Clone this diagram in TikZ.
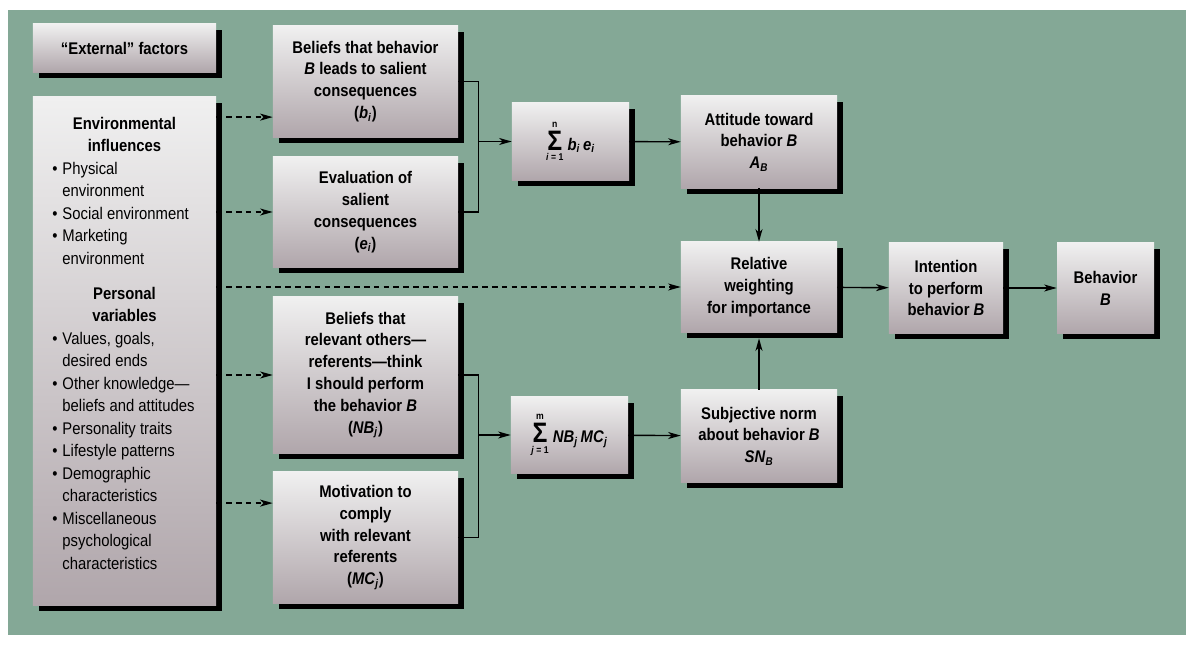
\documentclass[tikz,border=0pt]{standalone}
\usepackage{fontspec}
\setmainfont{Liberation Sans}[FakeStretch=0.88]
\usetikzlibrary{arrows.meta,positioning,shadows}
\definecolor{panel}{RGB}{132,168,150}
\definecolor{boxtop}{RGB}{240,240,240}
\definecolor{boxbot}{RGB}{176,166,171}
\newcommand{\bul}[1]{\par\hangindent=0.25cm\hangafter=1\noindent\makebox[0.25cm][l]{\textbullet}#1}
\newcommand{\sigmaop}[2]{\raisebox{-7.5pt}{\vbox{\offinterlineskip\halign{\hfil##\hfil\cr
  \fontsize{7}{7}\selectfont #1\cr\noalign{\kern2.5pt}
  \fontsize{20}{20}\selectfont Σ\cr\noalign{\kern2.5pt}
  \fontsize{7}{7}\selectfont #2\cr}}}\hspace{3pt}}
\newcommand{\sub}[1]{\textsubscript{\textit{#1}}}

\begin{document}
\begin{tikzpicture}[x=0.025cm,y=-0.025cm,
  factbox/.style={top color=boxtop,bottom color=boxbot,
    general shadow={fill=black,shadow xshift=0.15cm,shadow yshift=-0.15cm},
    align=center,inner sep=2pt,font=\bfseries\fontsize{12}{15.5}\selectfont},
  arr/.style={line width=1pt,-{Stealth[length=9pt,width=5pt,inset=2.5pt]}},
  dasharr/.style={arr,dash pattern=on 4pt off 3pt}]
\useasboundingbox (0,0) rectangle (1189,648);
\fill[panel] (8,10) rectangle (1186,635);

\node[factbox,minimum width=4.575cm,minimum height=1.2cm] (ext) at (124.5,48) {“External” factors};
\node[factbox,minimum width=4.575cm,minimum height=12.7cm] (env) at (124.5,351) {%
  \begin{minipage}{3.6cm}\raggedright\fontsize{12}{16}\selectfont
  {\centering Environmental\\ influences\par}
  \mdseries
  \bul{Physical\newline environment}
  \bul{Social environment}
  \bul{Marketing\newline environment}
  \par\vspace{9pt}
  {\centering\bfseries Personal\\ variables\par}
  \bul{Values, goals,\newline desired ends}
  \bul{Other knowledge---\newline beliefs and attitudes}
  \bul{Personality traits}
  \bul{Lifestyle patterns}
  \bul{Demographic\newline characteristics}
  \bul{Miscellaneous\newline psychological\newline characteristics}
  \par\vspace{11pt}
  \end{minipage}};

\node[factbox,minimum width=4.625cm,minimum height=2.775cm] (bel) at (365.5,81.5) {Beliefs that behavior\\ \textit{B} leads to salient\\ consequences\\ (\textit{b}\sub{i})};
\node[factbox,minimum width=4.625cm,minimum height=2.75cm] (eva) at (365.5,212) {Evaluation of\\ salient\\ consequences\\ (\textit{e}\sub{i})};
\node[factbox,minimum width=4.625cm,minimum height=3.9cm] (nb) at (365.5,375) {Beliefs that\\ relevant others---\\ referents---think\\ I should perform\\ the behavior \textit{B}\\ (\textit{NB}\sub{j})};
\node[factbox,minimum width=4.625cm,minimum height=3.275cm] (mc) at (365.5,537.5) {Motivation to\\ comply\\ with relevant\\ referents\\ (\textit{MC}\sub{j})};

\node[factbox,minimum width=2.925cm,minimum height=1.925cm] (sum1) at (570.5,141.5) {\sigmaop{n}{\textit{i} = 1}\textit{b}\sub{i}\,\textit{e}\sub{i}};
\node[factbox,minimum width=2.925cm,minimum height=1.9cm] (sum2) at (569.5,435) {\sigmaop{m}{\textit{j} = 1}\textit{NB}\sub{j}\,\textit{MC}\sub{j}};

\node[factbox,minimum width=3.9cm,minimum height=2.3cm] (att) at (759,142) {Attitude toward\\ behavior \textit{B}\\ \textit{A}\sub{B}};
\node[factbox,minimum width=3.9cm,minimum height=2.25cm] (rel) at (759,287) {Relative\\ weighting\\ for importance};
\node[factbox,minimum width=3.9cm,minimum height=2.3cm] (subj) at (759,436) {Subjective norm\\ about behavior \textit{B}\\ \textit{SN}\sub{B}};
\node[factbox,minimum width=2.85cm,minimum height=2.25cm] (int) at (946,288) {Intention\\ to perform\\ behavior \textit{B}};
\node[factbox,minimum width=2.425cm,minimum height=2.25cm] (beh) at (1105.5,288) {Behavior\\ \textit{B}};

% dashed links from the external factors
\coordinate (belin) at ([yshift=-0.89cm]bel.west);
\coordinate (mcin) at ([yshift=0.86cm]mc.west);
\draw[dasharr] (env.east |- belin) -- (belin);
\draw[dasharr] (env.east |- eva.west) -- (eva.west);
\draw[dasharr] (env.east |- rel.west) -- (rel.west);
\draw[dasharr] (env.east |- nb.west) -- (nb.west);
\draw[dasharr] (env.east |- mcin) -- (mcin);

% brackets into the sums
\coordinate (j1) at ([xshift=0.5cm]bel.east);
\coordinate (j2) at ([xshift=0.5cm]nb.east);
\draw[line width=1pt] (bel.east) -| (j1) |- (eva.east);
\draw[line width=1pt] (nb.east) -| (j2) |- (mc.east);
\draw[arr] (j1 |- sum1.west) -- (sum1.west);
\draw[arr] (j2 |- sum2.west) -- (sum2.west);

\draw[arr] (sum1) -- (att);
\draw[arr] (sum2) -- (subj);
\draw[arr] (att) -- (rel);
\draw[arr] (subj.north) -- ([yshift=-0.15cm]rel.south);
\draw[arr] (rel) -- (int);
\draw[arr] (int) -- (beh);
\end{tikzpicture}
\end{document}
